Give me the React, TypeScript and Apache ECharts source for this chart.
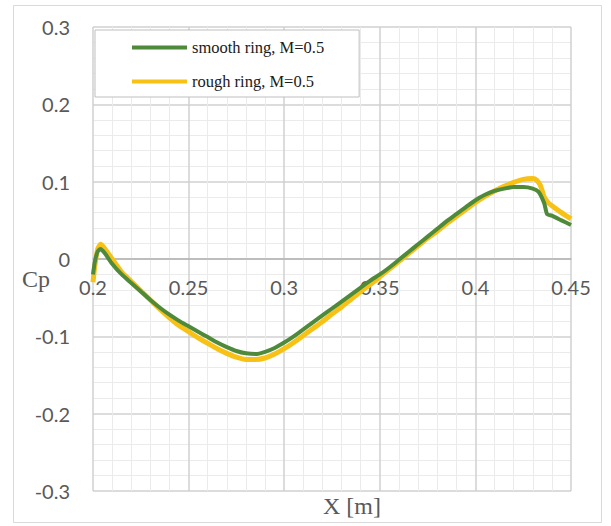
import React, { useEffect, useRef } from "react";
import * as echarts from "echarts";

const xSmooth = [0.2, 0.201, 0.2025, 0.204, 0.206, 0.21, 0.215, 0.22, 0.225, 0.23, 0.235, 0.24, 0.245, 0.25, 0.255, 0.26, 0.265, 0.27, 0.275, 0.28, 0.285, 0.29, 0.295, 0.3, 0.305, 0.31, 0.315, 0.32, 0.325, 0.33, 0.335, 0.34, 0.345, 0.35, 0.355, 0.36, 0.365, 0.37, 0.375, 0.38, 0.385, 0.39, 0.395, 0.4, 0.405, 0.41, 0.415, 0.42, 0.425, 0.43, 0.433, 0.436, 0.4375, 0.44, 0.445, 0.45];
const ySmooth = [-0.02, -0.003, 0.01, 0.013, 0.008, -0.006, -0.02, -0.031, -0.042, -0.053, -0.063, -0.072, -0.08, -0.087, -0.094, -0.101, -0.108, -0.114, -0.119, -0.122, -0.123, -0.12, -0.115, -0.108, -0.1, -0.091, -0.082, -0.073, -0.064, -0.055, -0.046, -0.037, -0.028, -0.02, -0.011, -0.001, 0.009, 0.019, 0.029, 0.039, 0.049, 0.058, 0.067, 0.076, 0.083, 0.088, 0.091, 0.093, 0.093, 0.091, 0.087, 0.072, 0.058, 0.056, 0.05, 0.044];

const xRough = [0.2, 0.201, 0.2025, 0.204, 0.206, 0.21, 0.215, 0.22, 0.225, 0.23, 0.235, 0.24, 0.245, 0.25, 0.255, 0.26, 0.265, 0.27, 0.275, 0.28, 0.285, 0.29, 0.295, 0.3, 0.305, 0.31, 0.315, 0.32, 0.325, 0.33, 0.335, 0.34, 0.345, 0.35, 0.355, 0.36, 0.365, 0.37, 0.375, 0.38, 0.385, 0.39, 0.395, 0.4, 0.405, 0.41, 0.415, 0.42, 0.425, 0.43, 0.432, 0.434, 0.436, 0.438, 0.44, 0.445, 0.45];
const yRough = [-0.03, -0.008, 0.013, 0.019, 0.014, 0.0, -0.017, -0.029, -0.041, -0.053, -0.065, -0.076, -0.086, -0.094, -0.102, -0.109, -0.116, -0.122, -0.127, -0.13, -0.13, -0.128, -0.123, -0.116, -0.108, -0.099, -0.09, -0.081, -0.071, -0.062, -0.052, -0.042, -0.033, -0.023, -0.013, -0.003, 0.007, 0.017, 0.027, 0.036, 0.046, 0.055, 0.064, 0.073, 0.081, 0.088, 0.094, 0.099, 0.103, 0.104, 0.102, 0.095, 0.08, 0.073, 0.069, 0.06, 0.052];

const seriesNames = ["smooth ring, M=0.5", "rough ring, M=0.5"];
const xTitle = "X [m]";
const yTitle = "Cp";

export default function App() {
  const ref = useRef<HTMLDivElement>(null);
  useEffect(() => {
    document.body.style.margin = "0";
    const chart = echarts.init(ref.current!, null, { renderer: "svg" });
    const labelStyle = { color: "#595959", fontSize: 20, fontFamily: "Lato" };
    const plotH = 464;
    chart.setOption({
      animation: false,
      backgroundColor: "#ffffff",
      grid: { left: 93, top: 27, width: 478, height: plotH, containLabel: false },
      xAxis: [
        {
          type: "value",
          min: 0.2,
          max: 0.45,
          interval: 0.05,
          position: "bottom",
          offset: -plotH / 2,
          axisLine: { show: true, onZero: false, lineStyle: { color: "#b3b3b3", width: 1.5 } },
          axisTick: { show: false },
          axisLabel: { ...labelStyle, margin: 18, formatter: (v: number) => String(+v.toFixed(2)) },
          splitLine: { show: true, lineStyle: { color: "#d0d0d0", width: 1.5 } },
          minorTick: { show: false, splitNumber: 5 },
          minorSplitLine: { show: true, lineStyle: { color: "#ebebeb", width: 1 } },
        },
      ],
      yAxis: {
        type: "value",
        min: -0.3,
        max: 0.3,
        interval: 0.1,
        axisLine: { show: false },
        axisTick: { show: false },
        axisLabel: { ...labelStyle, margin: 23, formatter: (v: number) => String(+v.toFixed(1)) },
        splitLine: { show: true, lineStyle: { color: "#d0d0d0", width: 1.5 } },
        minorTick: { show: false, splitNumber: 5 },
        minorSplitLine: { show: true, lineStyle: { color: "#ebebeb", width: 1 } },
      },
      legend: {
        show: true,
        orient: "vertical",
        left: 95,
        top: 30,
        data: seriesNames,
        icon: "rect",
        itemWidth: 55,
        itemHeight: 4,
        itemGap: 17,
        padding: [9, 35, 7, 37],
        backgroundColor: "#ffffff",
        borderColor: "#bfbfbf",
        borderWidth: 1,
        textStyle: { color: "#1a1a1a", fontSize: 16.5, fontFamily: "Liberation Serif" },
      },
      graphic: [
        {
          type: "rect",
          shape: { x: 13.5, y: 5.5, width: 588, height: 517 },
          style: { fill: "none", stroke: "#d9d9d9", lineWidth: 1 },
          z: -1,
        },
        {
          type: "text",
          left: 22,
          top: 267,
          style: { text: yTitle, fill: "#595959", fontSize: 24, fontFamily: "Liberation Serif" },
        },
        {
          type: "text",
          x: 352,
          y: 506,
          style: { text: xTitle, fill: "#595959", fontSize: 24, fontFamily: "Liberation Serif", align: "center", verticalAlign: "middle" },
        },
      ],
      series: [
        {
          name: seriesNames[0],
          type: "line",
          data: xSmooth.map((x, i) => [x, ySmooth[i]]),
          showSymbol: false,
          smooth: 0.2,
          z: 3,
          itemStyle: { color: "#4f8a3b" },
          lineStyle: { color: "#4f8a3b", width: 4 },
        },
        {
          name: seriesNames[1],
          type: "line",
          data: xRough.map((x, i) => [x, yRough[i]]),
          showSymbol: false,
          smooth: 0.2,
          z: 2,
          itemStyle: { color: "#f7c116" },
          lineStyle: { color: "#f7c116", width: 5 },
        },
      ],
    });
    return () => chart.dispose();
  }, []);
  return <div ref={ref} style={{ width: 611, height: 526 }} />;
}
